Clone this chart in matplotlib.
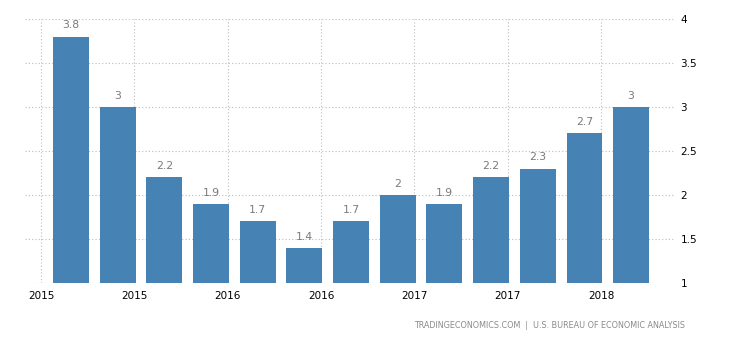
import matplotlib
matplotlib.use("Agg")
import matplotlib.pyplot as plt
import numpy as np

values = [3.8, 3.0, 2.2, 1.9, 1.7, 1.4, 1.7, 2.0, 1.9, 2.2, 2.3, 2.7, 3.0]
value_labels = ["3.8", "3", "2.2", "1.9", "1.7", "1.4", "1.7", "2", "1.9", "2.2", "2.3", "2.7", "3"]
xtick_labels = ["2015", "2015", "2016", "2016", "2017", "2017", "2018"]
ytick_values = [1, 1.5, 2, 2.5, 3, 3.5, 4]
ytick_labels = ["1", "1.5", "2", "2.5", "3", "3.5", "4"]

plt.rcParams['font.family'] = ['DejaVu Sans']

fig = plt.figure(figsize=(7.3, 3.4), dpi=100)
ax = fig.add_axes([0.0342, 0.1676, 0.8905, 0.7764])

x = np.arange(len(values))
ax.bar(x, values, width=0.77, color='#4682b4', zorder=3)

for xi, v, lab in zip(x, values, value_labels):
    ax.annotate(lab, (xi, v), xytext=(0, 4.5), textcoords='offset points',
                ha='center', va='bottom', fontsize=7.8, color='#7a7a7a', zorder=4)

ax.set_xlim(-0.986, 12.94)
ax.set_ylim(1, 4)

xt = -0.643 + 2 * np.arange(len(xtick_labels))
ax.set_xticks(xt)
ax.set_xticklabels(xtick_labels, fontsize=7.5, color='#000000')
ax.set_yticks(ytick_values)
ax.set_yticklabels(ytick_labels, fontsize=7.5, color='#000000')
ax.yaxis.tick_right()
ax.tick_params(axis='both', length=0)
ax.tick_params(axis='y', pad=4)
ax.tick_params(axis='x', pad=6)

ax.grid(True, which='major', axis='both', linestyle=(0, (1, 2)), color='#bdbdbd', linewidth=0.8, zorder=0)
for s in ax.spines.values():
    s.set_visible(False)

fig.text(0.9384, 0.044, "TRADINGECONOMICS.COM  |  U.S. BUREAU OF ECONOMIC ANALYSIS",
         ha='right', va='center', fontsize=5.8, color='#8a8a8a')

fig.savefig("out.png", dpi=100)
